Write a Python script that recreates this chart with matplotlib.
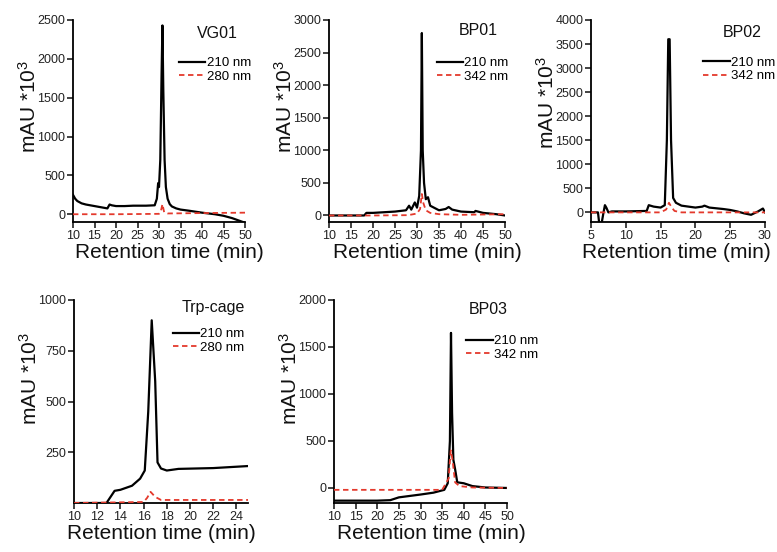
import matplotlib
matplotlib.use("Agg")
import matplotlib.pyplot as plt
import numpy as np

plt.rcParams['font.family'] = ['Liberation Sans', 'DejaVu Sans']
plt.rcParams['mathtext.fontset'] = 'custom'
plt.rcParams['mathtext.rm'] = 'Liberation Sans'
plt.rcParams['mathtext.it'] = 'Liberation Sans'

# ---------------- data ----------------
vg01_x = [10, 10.5, 11, 12, 13, 14, 15, 16, 17, 18, 18.5, 19, 20, 22, 24, 25, 27, 29, 29.5, 29.8, 30.0,
          30.3, 30.6, 30.8, 31.0, 31.3, 31.6, 32, 32.5, 33, 34, 35, 37, 40, 43, 45, 47, 49, 50]
vg01_210 = [250, 200, 170, 140, 125, 115, 105, 95, 85, 75, 125, 115, 105, 105, 110, 110, 110, 115, 200, 400, 350,
            700, 1800, 2430, 1600, 700, 350, 200, 130, 100, 75, 60, 45, 20, 0, -20, -50, -90, -110]
vg01_rx = [10, 20, 30, 30.4, 30.8, 31.2, 32, 40, 50]
vg01_280 = [0, 0, 5, 30, 130, 25, 10, 15, 20]

bp01_x = [10, 14, 18, 18.5, 20, 25, 27.5, 28.2, 28.7, 29.5, 30, 30.5, 30.9, 31.1, 31.3, 31.6, 32, 32.5, 33,
          35, 36.5, 37.2, 38, 40, 43, 43.3, 45, 48, 50]
bp01_210 = [0, 0, 0, 40, 40, 60, 80, 150, 90, 200, 120, 300, 1000, 2800, 1000, 500, 250, 280, 150,
            80, 100, 130, 90, 60, 50, 70, 40, 20, 0]
bp01_rx = [10, 20, 28, 30, 30.7, 31.1, 31.4, 32, 33, 35, 40, 45, 50]
bp01_342 = [0, 0, 5, 30, 100, 330, 200, 80, 40, 20, 10, 15, 20]

bp02_x = [5, 6.0, 6.2, 6.5, 6.8, 7.0, 7.2, 7.5, 8, 10, 13, 13.3, 14, 15, 15.6, 15.9, 16.1, 16.3, 16.5, 16.8,
          17.2, 18, 20, 21, 21.3, 22, 24, 25, 26, 27, 28, 29, 29.7, 30]
bp02_210 = [0, 0, -250, -250, 0, 150, 100, 0, 20, 20, 30, 150, 120, 100, 150, 1500, 3600, 3600, 1500, 300,
            200, 140, 100, 120, 140, 100, 70, 50, 20, -20, -50, 20, 80, 0]
bp02_rx = [5, 10, 15, 15.8, 16.2, 16.6, 17, 18, 30]
bp02_342 = [0, 0, 0, 60, 200, 100, 30, 0, 0]

trp_x = [10, 12.8, 13.5, 14, 15, 15.7, 16.1, 16.4, 16.7, 17.0, 17.2, 17.5, 18, 19, 22, 25]
trp_210 = [0, 0, 60, 65, 85, 120, 160, 450, 900, 600, 200, 170, 160, 168, 172, 182]
trp_rx = [10, 16, 16.3, 16.6, 17, 17.5, 25]
trp_280 = [0, 5, 25, 55, 30, 15, 15]

bp03_x = [10, 20, 23, 25, 30, 33, 35.5, 36.3, 36.8, 37.05, 37.3, 37.6, 38, 38.5, 40, 42, 45, 50]
bp03_210 = [-135, -135, -130, -100, -70, -50, -20, 50, 500, 1650, 800, 300, 200, 60, 50, 20, 5, 0]
bp03_rx = [10, 35, 36.5, 37, 37.4, 38, 39, 42, 50]
bp03_342 = [-20, -20, 100, 400, 300, 60, 20, 5, 0]

panels = [
    dict(name="VG01", x=vg01_x, y1=vg01_210, rx=vg01_rx, y2=vg01_280, lab2="280 nm",
         xlim=(10, 50), xt=np.arange(10, 51, 5), ylim=(-100, 2500), yt=np.arange(0, 2501, 500),
         pos=[73, 222, 172, 202], tpos=(0.96, 0.97), lpos=(1.035, 0.817), xl=0.56, yl=0.574),
    dict(name="BP01", x=bp01_x, y1=bp01_210, rx=bp01_rx, y2=bp01_342, lab2="342 nm",
         xlim=(10, 50), xt=np.arange(10, 51, 5), ylim=(-100, 3000), yt=np.arange(0, 3001, 500),
         pos=[329, 222, 176, 202], tpos=(0.96, 0.985), lpos=(1.02, 0.817), xl=0.56, yl=0.574),
    dict(name="BP02", x=bp02_x, y1=bp02_210, rx=bp02_rx, y2=bp02_342, lab2="342 nm",
         xlim=(5, 30), xt=np.arange(5, 31, 5), ylim=(-200, 4000), yt=np.arange(0, 4001, 500),
         pos=[591, 222, 174, 202], tpos=(0.983, 0.975), lpos=(1.06, 0.82), xl=0.49, yl=0.59),
    dict(name="Trp-cage", x=trp_x, y1=trp_210, rx=trp_rx, y2=trp_280, lab2="280 nm",
         xlim=(10, 25), xt=np.arange(10, 25, 2), ylim=(0, 1000), yt=[250, 500, 750, 1000],
         pos=[74, 503, 174, 203], tpos=(0.98, 1.0), lpos=(0.98, 0.862), xl=0.5, yl=0.616),
    dict(name="BP03", x=bp03_x, y1=bp03_210, rx=bp03_rx, y2=bp03_342, lab2="342 nm",
         xlim=(10, 50), xt=np.arange(10, 51, 5), ylim=(-160, 2000), yt=np.arange(0, 2001, 500),
         pos=[334, 503, 173, 203], tpos=(1.005, 0.99), lpos=(1.18, 0.827), xl=0.56, yl=0.616),
]

W, H = 777, 552
fig = plt.figure(figsize=(W / 100, H / 100), dpi=100)

for p in panels:
    l, b, w, h = p["pos"]
    ax = fig.add_axes([l / W, 1 - b / H, w / W, h / H])
    ax.plot(p["x"], p["y1"], color="black", lw=1.6, label="210 nm", zorder=3)
    ax.plot(p["rx"], p["y2"], color="#e4392c", lw=1.3, ls=(0, (3, 2)), label=p["lab2"], zorder=4)
    ax.set_xlim(*p["xlim"])
    ax.set_ylim(*p["ylim"])
    ax.set_xticks(p["xt"])
    ax.set_yticks(p["yt"])
    for s in ["top", "right"]:
        ax.spines[s].set_visible(False)
    for s in ["left", "bottom"]:
        ax.spines[s].set_linewidth(1.3)
    ax.tick_params(direction="out", length=4, width=1.2, labelsize=9, pad=1.5, colors="#222222")
    ax.set_xlabel("Retention time (min)", fontsize=15, labelpad=1, color="#111111")
    ax.xaxis.label.set_x(p["xl"])
    ax.set_ylabel("mAU *10$^3$", fontsize=15, color="#111111")
    ax.yaxis.set_label_coords(-33 / w, p["yl"])
    ax.text(p["tpos"][0], p["tpos"][1], p["name"], transform=ax.transAxes, ha="right", va="top",
            fontsize=11.5, color="#111111")
    ax.legend(loc="upper right", bbox_to_anchor=p["lpos"], frameon=False, fontsize=9.5,
              handlelength=2.0, handletextpad=0.1, labelspacing=0.1, borderaxespad=0, borderpad=0)

fig.savefig("out.png", dpi=100)
